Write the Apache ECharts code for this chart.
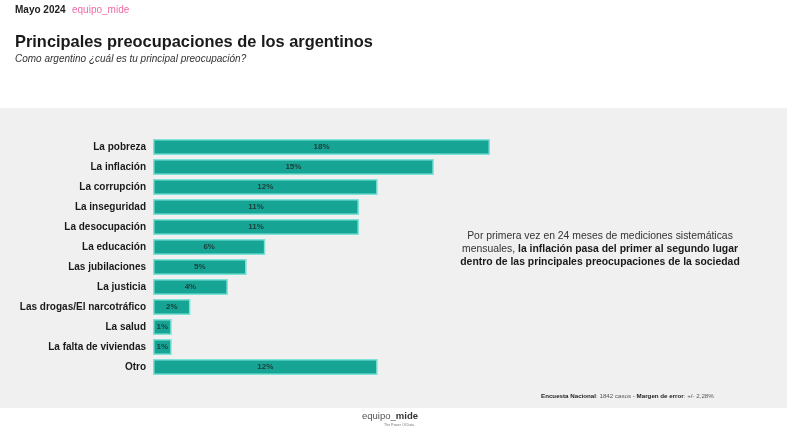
<!DOCTYPE html>
<html>
<head>
<meta charset="utf-8">
<script src="https://cdn.jsdelivr.net/npm/echarts@6/dist/echarts.min.js"></script>
<style>html,body{margin:0;padding:0;background:#fff}#c{width:794px;height:429px}</style>
</head>
<body>
<div id="c"></div>
<script>
var categories = ['La pobreza','La inflación','La corrupción','La inseguridad','La desocupación','La educación','Las jubilaciones','La justicia','Las drogas/El narcotráfico','La salud','La falta de viviendas','Otro'];
var values = [18,15,12,11,11,6,5,4,2,1,1,12];

var chart = echarts.init(document.getElementById('c'));
var F = '"Liberation Sans", Arial, sans-serif';
chart.setOption({
  animation: false,
  backgroundColor: '#ffffff',
  graphic: [
    {type:'rect', z:-10, shape:{x:0,y:108,width:787,height:300}, style:{fill:'#f0f0f0'}},
    {type:'text', left:15, top:5, style:{text:'Mayo 2024', font:'bold 10px '+F, fill:'#222'}},
    {type:'text', left:72, top:5, style:{text:'equipo_mide', font:'10px '+F, fill:'#f06aa6'}},
    {type:'text', left:15, top:34, style:{text:'Principales preocupaciones de los argentinos', font:'bold 16.4px '+F, fill:'#1a1a1a'}},
    {type:'text', left:15, top:54, style:{text:'Como argentino ¿cuál es tu principal preocupación?', font:'italic 10px '+F, fill:'#333'}},
    {type:'text', x:600, y:230, style:{
      text:'{n|Por primera vez en 24 meses de mediciones sistemáticas}\n{n|mensuales, }{b|la inflación pasa del primer al segundo lugar}\n{b|dentro de las principales preocupaciones de la sociedad}',
      align:'center', verticalAlign:'top', lineHeight:13,
      rich:{n:{font:'10.4px '+F, fill:'#333', lineHeight:13}, b:{font:'bold 10.4px '+F, fill:'#1a1a1a', lineHeight:13}}
    }},
    {type:'text', x:541, y:393, style:{
      text:'{b|Encuesta Nacional}{n|: 1842 casos - }{b|Margen de error}{n|: +/- 2,28%}',
      rich:{n:{font:'6.2px '+F, fill:'#555'}, b:{font:'bold 6.2px '+F, fill:'#222'}}
    }},
    {type:'text', x:362, y:411, style:{
      text:'{n|equipo_}{b|mide}',
      rich:{n:{font:'9.5px '+F, fill:'#555'}, b:{font:'bold 9.5px '+F, fill:'#333'}}
    }},
    {type:'text', x:414, y:423, style:{text:'The Power Of Data', align:'right', font:'3.5px '+F, fill:'#777'}}
  ],
  grid: {left:153, top:137, width:337, height:240, containLabel:false},
  xAxis: {type:'value', min:0, max:18, show:false},
  yAxis: {
    type:'category', data:categories, inverse:true,
    axisLine:{show:false}, axisTick:{show:false},
    axisLabel:{fontFamily:F, fontWeight:'bold', fontSize:10, color:'#1a1a1a', margin:7}
  },
  series: [{
    type:'bar', data:values, barWidth:16,
    itemStyle:{color:'#16a595', borderColor:'#7fe3d8', borderWidth:1.5},
    label:{show:true, position:'inside', formatter:'{c}%', fontFamily:F, fontWeight:'bold', fontSize:8, color:'#1d3d39'}
  }]
});
</script>
</body>
</html>
